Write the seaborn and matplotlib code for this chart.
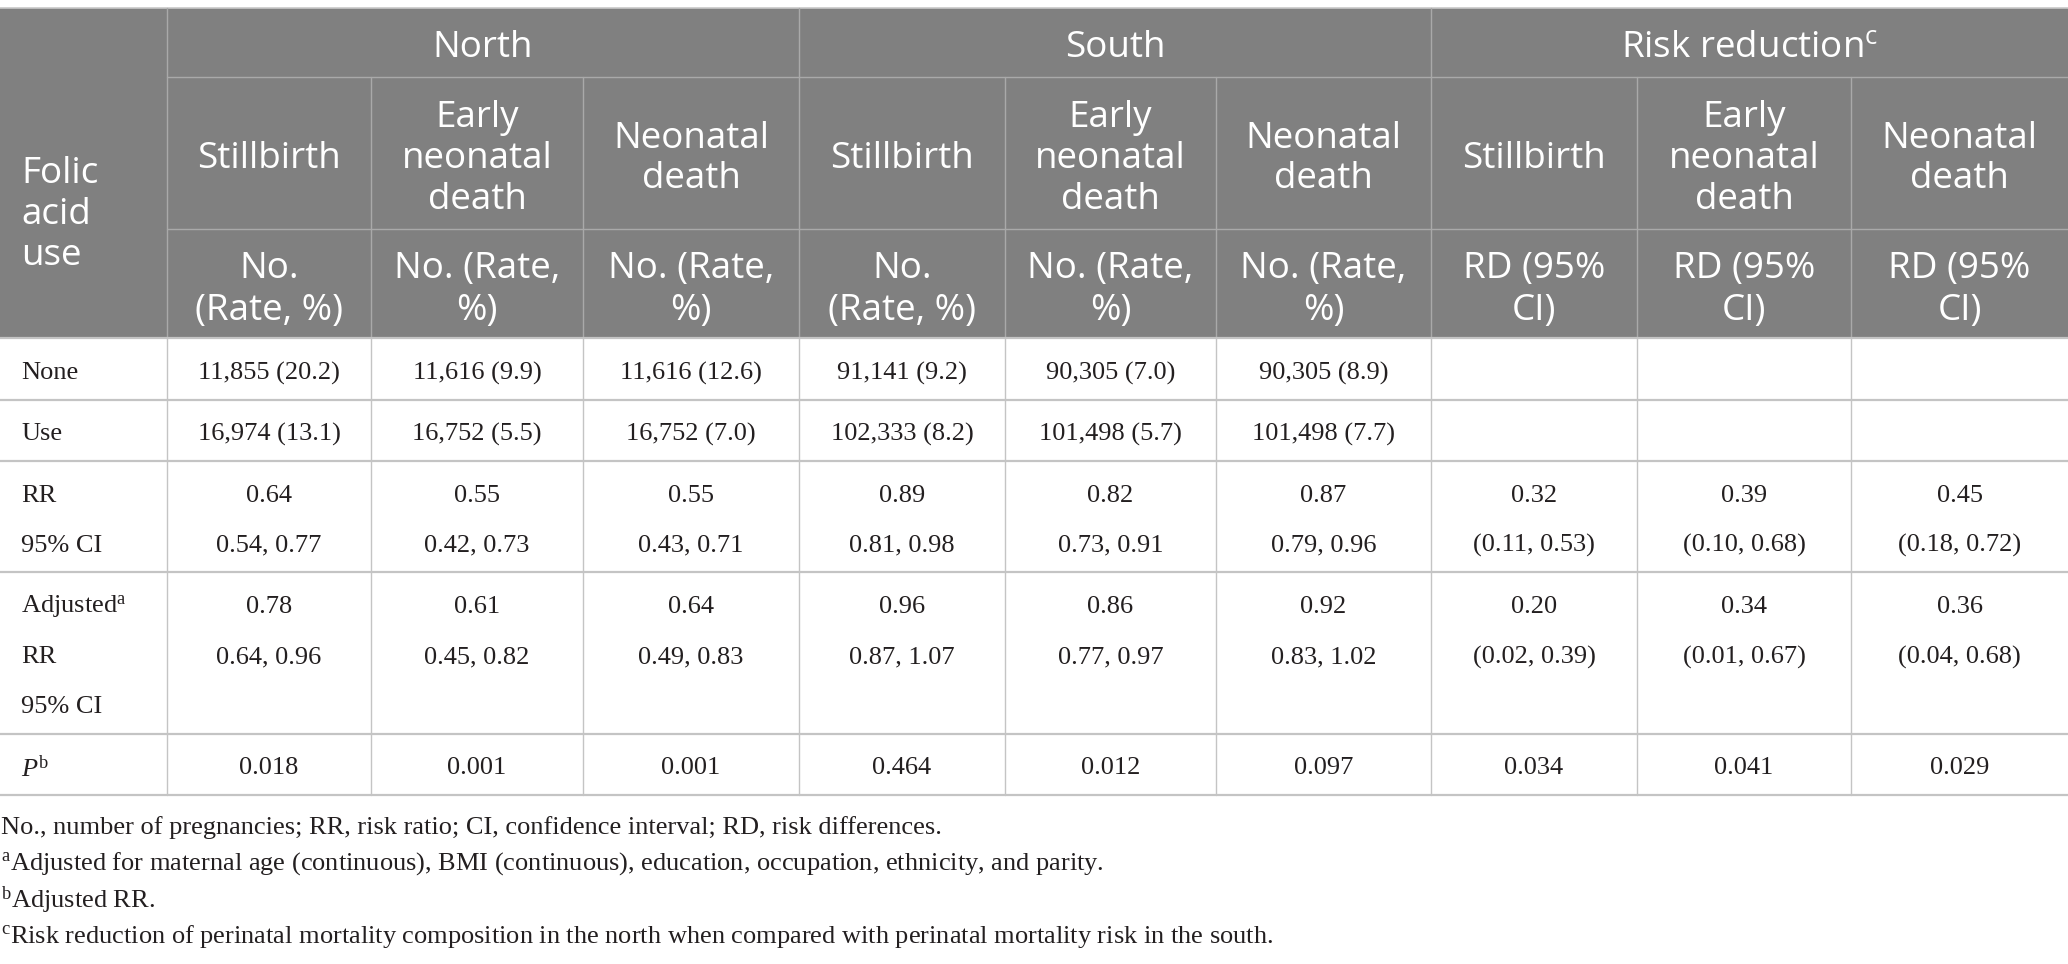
import matplotlib
matplotlib.use("Agg")
import matplotlib.pyplot as plt
import seaborn as sns

# ===================== DADOS =====================
groups = ["North", "South", "Risk reduction$^{\\mathsf{c}}$"]
outcomes = ["Stillbirth", "Early\nneonatal\ndeath", "Neonatal\ndeath"]
units_rate = ["No.\n(Rate, %)", "No. (Rate,\n%)", "No. (Rate,\n%)"]
units_rd = ["RD (95%\nCI)", "RD (95%\nCI)", "RD (95%\nCI)"]

none_vals = ["11,855 (20.2)", "11,616 (9.9)", "11,616 (12.6)",
             "91,141 (9.2)", "90,305 (7.0)", "90,305 (8.9)", "", "", ""]
use_vals = ["16,974 (13.1)", "16,752 (5.5)", "16,752 (7.0)",
            "102,333 (8.2)", "101,498 (5.7)", "101,498 (7.7)", "", "", ""]
rr_vals = ["0.64", "0.55", "0.55", "0.89", "0.82", "0.87", "0.32", "0.39", "0.45"]
rr_ci = ["0.54, 0.77", "0.42, 0.73", "0.43, 0.71", "0.81, 0.98", "0.73, 0.91",
         "0.79, 0.96", "(0.11, 0.53)", "(0.10, 0.68)", "(0.18, 0.72)"]
adj_rr = ["0.78", "0.61", "0.64", "0.96", "0.86", "0.92", "0.20", "0.34", "0.36"]
adj_ci = ["0.64, 0.96", "0.45, 0.82", "0.49, 0.83", "0.87, 1.07", "0.77, 0.97",
          "0.83, 1.02", "(0.02, 0.39)", "(0.01, 0.67)", "(0.04, 0.68)"]
p_vals = ["0.018", "0.001", "0.001", "0.464", "0.012", "0.097", "0.034", "0.041", "0.029"]

row_labels = [["None"], ["Use"], ["RR", "95% CI"],
              ["Adjusted$^{\\mathrm{a}}$", "RR", "95% CI"], ["$\\mathit{P}^{\\mathrm{b}}$"]]
row_values = [[none_vals], [use_vals], [rr_vals, rr_ci], [adj_rr, adj_ci], [p_vals]]

footnotes = [
    "No., number of pregnancies; RR, risk ratio; CI, confidence interval; RD, risk differences.",
    "$^{\\mathrm{a}}$Adjusted for maternal age (continuous), BMI (continuous), education, occupation, ethnicity, and parity.",
    "$^{\\mathrm{b}}$Adjusted RR.",
    "$^{\\mathrm{c}}$Risk reduction of perinatal mortality composition in the north when compared with perinatal mortality risk in the south.",
]

# ===================== LAYOUT =====================
W, H = 2068, 964
col_edges = [0, 167, 371, 583, 799, 1005, 1216, 1431, 1637, 1851, 2068]
head_rows = [8, 77, 229, 338]
body_rows = [338, 400, 461, 572, 734, 795]
foot_y = [828, 864, 900, 936]

HEAD_BG = "#808080"
HEAD_LINE = "#a9a9a9"
BODY_LINE = "#c4c4c4"
TXT = "#231f20"
SANS = "Open Sans"
SERIF = "Liberation Serif"

sns.set_theme(style="white")
plt.rcParams["font.family"] = [SERIF, "DejaVu Serif"]
plt.rcParams["mathtext.fontset"] = "custom"
plt.rcParams["mathtext.rm"] = SERIF
plt.rcParams["mathtext.it"] = SERIF + ":italic"
plt.rcParams["mathtext.sf"] = SANS


def put_lines(ax, x, yc, lines, step, **kw):
    n = len(lines)
    for i, line in enumerate(lines):
        ax.text(x, yc + (i - (n - 1) / 2) * step, line, **kw)


fig = plt.figure(figsize=(W / 100, H / 100), dpi=100)
ax = fig.add_axes([0, 0, 1, 1])
ax.set_xlim(0, W)
ax.set_ylim(H, 0)
ax.axis("off")

# cabeçalho
ax.add_patch(plt.Rectangle((0, head_rows[0]), W, head_rows[-1] - head_rows[0],
                           facecolor=HEAD_BG, edgecolor="none"))
ax.plot([0, W], [head_rows[0], head_rows[0]], color="#c8c8c8", lw=1.2)
for y in head_rows[1:3]:
    ax.plot([col_edges[1], W], [y, y], color=HEAD_LINE, lw=1.0)
for i, x in enumerate(col_edges[1:-1], start=1):
    top = head_rows[0] if (i - 1) % 3 == 0 else head_rows[1]
    ax.plot([x, x], [top, head_rows[-1]], color=HEAD_LINE, lw=1.0)

HS = 5  # ajuste vertical do texto sans
hkw = dict(family=SANS, fontsize=26.5, color="white", ha="center", va="center")
put_lines(ax, 21, 210 + HS, ["Folic", "acid", "use"], 41, **{**hkw, "ha": "left"})
for g, name in enumerate(groups):
    xc = (col_edges[1 + 3 * g] + col_edges[4 + 3 * g]) / 2
    ax.text(xc, 43 + HS, name, **hkw)
    units = units_rd if g == 2 else units_rate
    for k in range(3):
        c = 1 + 3 * g + k
        xm = (col_edges[c] + col_edges[c + 1]) / 2
        put_lines(ax, xm, 154 + HS, outcomes[k].split("\n"), 41, **hkw)
        put_lines(ax, xm, 285 + HS, units[k].split("\n"), 41, **hkw)

# corpo
for y in body_rows:
    ax.plot([0, W], [y, y], color=BODY_LINE, lw=1.6)
for x in col_edges[1:-1]:
    ax.plot([x, x], [body_rows[0], body_rows[-1]], color=BODY_LINE, lw=1.0)

bkw = dict(family=SERIF, fontsize=19, color=TXT, va="center")
STEP = 50
for r, (labels, values) in enumerate(zip(row_labels, row_values)):
    yc = (body_rows[r] + body_rows[r + 1]) / 2 + 4
    y0 = yc - (len(labels) - 1) / 2 * STEP
    for i, lab in enumerate(labels):
        ax.text(21, y0 + i * STEP, lab, ha="left", **bkw)
    for i, series in enumerate(values):
        for c, val in enumerate(series):
            xm = (col_edges[c + 1] + col_edges[c + 2]) / 2
            ax.text(xm, y0 + i * STEP, val, ha="center", **bkw)

# notas
for y, note in zip(foot_y, footnotes):
    ax.text(1, y, note, ha="left", **{**bkw, "fontsize": 19})

fig.savefig("out.png", dpi=100)
plt.close(fig)
